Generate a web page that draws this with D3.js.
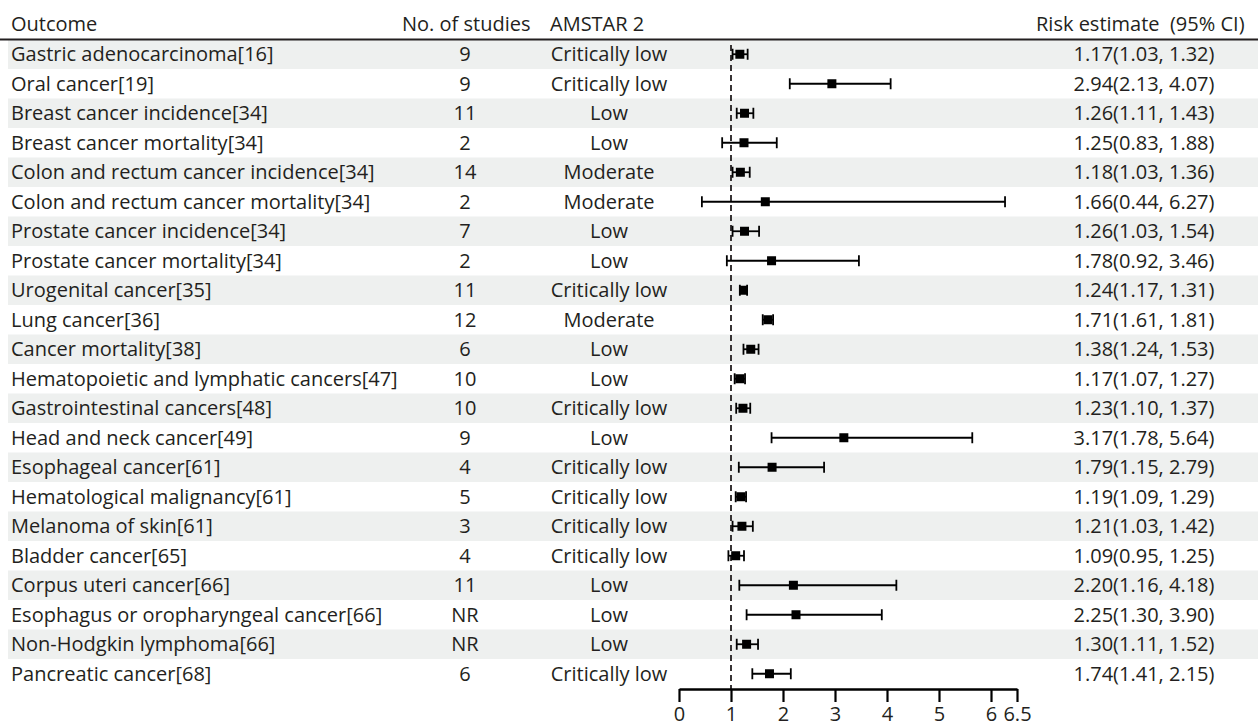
<!DOCTYPE html>
<html>
<head>
<meta charset="utf-8">
<script src="https://cdn.jsdelivr.net/npm/d3@7"></script>
<style>
  html, body { margin: 0; padding: 0; background: #fff; }
  svg text { font-family: "Open Sans", "Noto Sans", sans-serif; fill: #231f20; }
</style>
</head>
<body>
<svg id="forest_svg" width="1258" height="728"></svg>
<script>
var outcomes = [
    "Gastric adenocarcinoma[16]", "Oral cancer[19]", "Breast cancer incidence[34]",
    "Breast cancer mortality[34]", "Colon and rectum cancer incidence[34]",
    "Colon and rectum cancer mortality[34]", "Prostate cancer incidence[34]",
    "Prostate cancer mortality[34]", "Urogenital cancer[35]", "Lung cancer[36]",
    "Cancer mortality[38]", "Hematopoietic and lymphatic cancers[47]",
    "Gastrointestinal cancers[48]", "Head and neck cancer[49]", "Esophageal cancer[61]",
    "Hematological malignancy[61]", "Melanoma of skin[61]", "Bladder cancer[65]",
    "Corpus uteri cancer[66]", "Esophagus or oropharyngeal cancer[66]",
    "Non-Hodgkin lymphoma[66]", "Pancreatic cancer[68]"
];
var studies = ["9", "9", "11", "2", "14", "2", "7", "2", "11", "12", "6", "10", "10", "9", "4", "5", "3", "4", "11", "NR", "NR", "6"];
var amstar = ["Critically low", "Critically low", "Low", "Low", "Moderate", "Moderate", "Low", "Low",
    "Critically low", "Moderate", "Low", "Low", "Critically low", "Low", "Critically low",
    "Critically low", "Critically low", "Critically low", "Low", "Low", "Low", "Critically low"];
var estimate = [1.17, 2.94, 1.26, 1.25, 1.18, 1.66, 1.26, 1.78, 1.24, 1.71, 1.38, 1.17, 1.23, 3.17, 1.79, 1.19, 1.21, 1.09, 2.20, 2.25, 1.30, 1.74];
var lower = [1.03, 2.13, 1.11, 0.83, 1.03, 0.44, 1.03, 0.92, 1.17, 1.61, 1.24, 1.07, 1.10, 1.78, 1.15, 1.09, 1.03, 0.95, 1.16, 1.30, 1.11, 1.41];
var upper = [1.32, 4.07, 1.43, 1.88, 1.36, 6.27, 1.54, 3.46, 1.31, 1.81, 1.53, 1.27, 1.37, 5.64, 2.79, 1.29, 1.42, 1.25, 4.18, 3.90, 1.52, 2.15];
var headers = ["Outcome", "No. of studies", "AMSTAR 2", "Risk estimate  (95% CI)"];
var tickValues = [0, 1, 2, 3, 4, 5, 6, 6.5];

var rows = outcomes.map(function (name, i) {
    return { name: name, n: studies[i], q: amstar[i], est: estimate[i], lo: lower[i], hi: upper[i] };
});

var width = 1258, fontSize = 20;
var svg = d3.select("#forest_svg");

var y = d3.scaleBand()
    .domain(outcomes)
    .range([39.5, 688.5]);

var x = d3.scaleLinear()
    .domain([0, 6.5])
    .range([679, 1017]);

var fmt = d3.format(".2f");

// zebra rows
svg.append("g")
    .selectAll("rect")
    .data(rows.filter(function (d, i) { return i % 2 == 0; }))
    .join("rect")
    .attr("x", 8)
    .attr("width", width - 8)
    .attr("y", d => y(d.name))
    .attr("height", y.bandwidth())
    .attr("fill", "#eef0ef");

// header
var head = svg.append("g").attr("font-size", fontSize);
head.append("text").attr("x", 11).attr("y", 31).text(headers[0]);
head.append("text").attr("x", 402).attr("y", 31).text(headers[1]);
head.append("text").attr("x", 550).attr("y", 31).text(headers[2]);
head.append("text").attr("x", 1036).attr("y", 31).attr("xml:space", "preserve").text(headers[3]);

svg.append("line")
    .attr("x1", 0).attr("x2", width)
    .attr("y1", 39.5).attr("y2", 39.5)
    .attr("stroke", "#231f20")
    .attr("stroke-width", 2);

// table columns
var cells = svg.append("g")
    .attr("font-size", fontSize)
    .selectAll("g")
    .data(rows)
    .join("g")
    .attr("transform", d => `translate(0,${y(d.name) + y.bandwidth() / 2})`);

cells.append("text").attr("x", 11).attr("dy", "0.35em").text(d => d.name);
cells.append("text").attr("x", 465).attr("dy", "0.35em").attr("text-anchor", "middle").text(d => d.n);
cells.append("text").attr("x", 609).attr("dy", "0.35em").attr("text-anchor", "middle").text(d => d.q);
cells.append("text").attr("x", 1144).attr("dy", "0.35em").attr("text-anchor", "middle")
    .text(d => `${fmt(d.est)}(${fmt(d.lo)}, ${fmt(d.hi)})`);

// reference line at 1
svg.append("line")
    .attr("x1", x(1)).attr("x2", x(1))
    .attr("y1", 45).attr("y2", 689)
    .attr("stroke", "#231f20")
    .attr("stroke-width", 1.8)
    .attr("stroke-dasharray", "6,4");

// confidence intervals
var ci = svg.append("g")
    .attr("stroke", "#000")
    .attr("stroke-width", 1.8)
    .selectAll("g")
    .data(rows)
    .join("g")
    .attr("transform", d => `translate(0,${y(d.name) + y.bandwidth() / 2})`);

ci.append("line").attr("x1", d => x(d.lo)).attr("x2", d => x(d.hi));
ci.append("line").attr("x1", d => x(d.lo)).attr("x2", d => x(d.lo)).attr("y1", -5.5).attr("y2", 5.5);
ci.append("line").attr("x1", d => x(d.hi)).attr("x2", d => x(d.hi)).attr("y1", -5.5).attr("y2", 5.5);
ci.append("rect")
    .attr("x", d => x(d.est) - 4.5)
    .attr("y", -4.5)
    .attr("width", 9)
    .attr("height", 9)
    .attr("fill", "#000")
    .attr("stroke", "none");

// x axis
var xAxis = g => g
    .attr("transform", "translate(0,689)")
    .call(d3.axisBottom(x).tickValues(tickValues).tickFormat(d3.format("")).tickSize(13).tickSizeOuter(0).tickPadding(5))
    .call(g => g.select(".domain").attr("stroke-width", 2.5).attr("stroke", "#000"))
    .call(g => g.selectAll(".tick line").attr("stroke-width", 2.2).attr("stroke", "#000"))
    .call(g => g.selectAll(".tick text").attr("font-size", fontSize).attr("fill", "#231f20"));

svg.append("g").attr("font-family", null).call(xAxis);
</script>
</body>
</html>
